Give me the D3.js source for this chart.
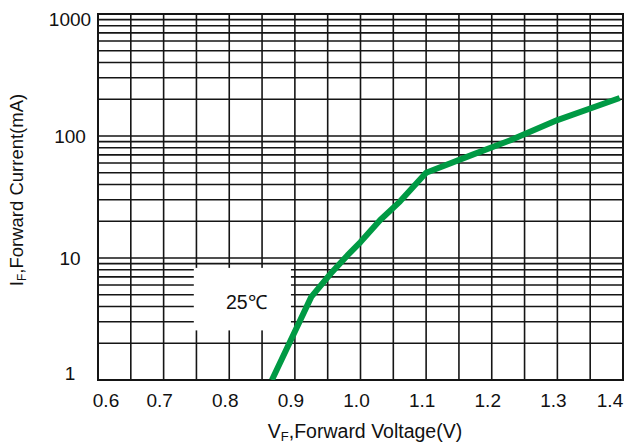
<!DOCTYPE html>
<html>
<head>
<meta charset="utf-8">
<script src="https://cdn.jsdelivr.net/npm/d3@7"></script>
<style>
  html, body { margin: 0; padding: 0; background: #fff; }
  svg { display: block; }
  text { font-family: "Liberation Sans", Arial, Helvetica, sans-serif; fill: #111; }
</style>
</head>
<body>
<svg id="chart" width="625" height="448"></svg>
<script>
// ---- data ----
const voltage = [0.865, 0.925, 0.955, 0.98, 1.0, 1.03, 1.06, 1.10, 1.17, 1.23, 1.30, 1.395];
const current = [1, 4.8, 7.5, 10.5, 13.5, 20.5, 29, 50, 70, 93, 135, 205];
const xTickValues = [0.6, 0.7, 0.8, 0.9, 1.0, 1.1, 1.2, 1.3, 1.4];
const xTickLabels = ["0.6", "0.7", "0.8", "0.9", "1.0", "1.1", "1.2", "1.3", "1.4"];
const yTickValues = [1, 10, 100, 1000];
const yTickLabels = ["1", "10", "100", "1000"];
const tempLabel = "25\u2103";

(function () {
  // ---- layout ----
  const pLeft = 98, pRight = 623, pTop = 14, pBottom = 380;

  const svg = d3.select("#chart");
  const x = d3.scaleLinear().domain([0.6, 1.4]).range([pLeft, pRight]);
  const y = d3.scaleLog().domain([1, 1000]).range([pBottom, pTop]);

  const gridColor = "#151515";

  // vertical grid lines every 0.05 V
  const xGrid = x.ticks(16);
  svg.append("g").selectAll("line").data(xGrid).join("line")
    .attr("x1", d => x(d)).attr("x2", d => x(d))
    .attr("y1", pTop).attr("y2", pBottom)
    .attr("stroke", gridColor).attr("stroke-width", 1.6);

  // horizontal log grid lines
  const yGrid = y.ticks();
  svg.append("g").selectAll("line").data(yGrid).join("line")
    .attr("x1", pLeft).attr("x2", pRight)
    .attr("y1", d => y(d)).attr("y2", d => y(d))
    .attr("stroke", gridColor).attr("stroke-width", 1.6);

  // frame
  svg.append("rect")
    .attr("x", pLeft).attr("y", pTop)
    .attr("width", pRight - pLeft).attr("height", pBottom - pTop)
    .attr("fill", "none").attr("stroke", gridColor).attr("stroke-width", 2);

  // temperature label box
  const boxV0 = 0.746, boxV1 = 0.894;
  svg.append("rect")
    .attr("x", x(boxV0)).attr("y", y(8.3))
    .attr("width", x(boxV1) - x(boxV0)).attr("height", y(2.55) - y(8.3))
    .attr("fill", "#fff");
  svg.append("text")
    .attr("x", (x(boxV0) + x(boxV1)) / 2 + 4).attr("y", 309)
    .attr("text-anchor", "middle").attr("font-size", 19.5)
    .text(tempLabel);

  // curve
  svg.append("defs").append("clipPath").attr("id", "clip")
    .append("rect").attr("x", pLeft).attr("y", pTop)
    .attr("width", pRight - pLeft).attr("height", pBottom - pTop);
  const pts = voltage.map((v, i) => [v, current[i]]);
  svg.append("path")
    .datum(pts)
    .attr("clip-path", "url(#clip)")
    .attr("fill", "none")
    .attr("stroke", "#009a44")
    .attr("stroke-width", 6)
    .attr("stroke-linejoin", "round")
    .attr("d", d3.line().x(d => x(d[0])).y(d => y(d[1])));

  // x tick labels
  svg.append("g").selectAll("text").data(xTickValues).join("text")
    .attr("x", d => Math.max(pLeft + 8, Math.min(pRight - 13, x(d) - 4)))
    .attr("y", 407)
    .attr("text-anchor", "middle").attr("font-size", 19)
    .text((d, i) => xTickLabels[i]);

  // y tick labels
  svg.append("g").selectAll("text").data(yTickValues).join("text")
    .attr("x", 70)
    .attr("y", d => Math.max(pTop + 5.5, Math.min(pBottom - 6.5, y(d))) + 6.8)
    .attr("text-anchor", "middle").attr("font-size", 19)
    .text((d, i) => yTickLabels[i]);

  // x axis title
  const xt = svg.append("text")
    .attr("x", 365).attr("y", 438)
    .attr("text-anchor", "middle").attr("font-size", 19.5);
  xt.append("tspan").text("V");
  xt.append("tspan").attr("font-size", 13).attr("dy", 3).text("F");
  xt.append("tspan").attr("dy", -3).text(",Forward Voltage(V)");

  // y axis title
  const yt = svg.append("text")
    .attr("transform", "translate(23,190) rotate(-90)")
    .attr("text-anchor", "middle").attr("font-size", 18.5);
  yt.append("tspan").text("I");
  yt.append("tspan").attr("font-size", 12).attr("dy", 3).text("F");
  yt.append("tspan").attr("dy", -3).text(",Forward Current(mA)");
})();
</script>
</body>
</html>
